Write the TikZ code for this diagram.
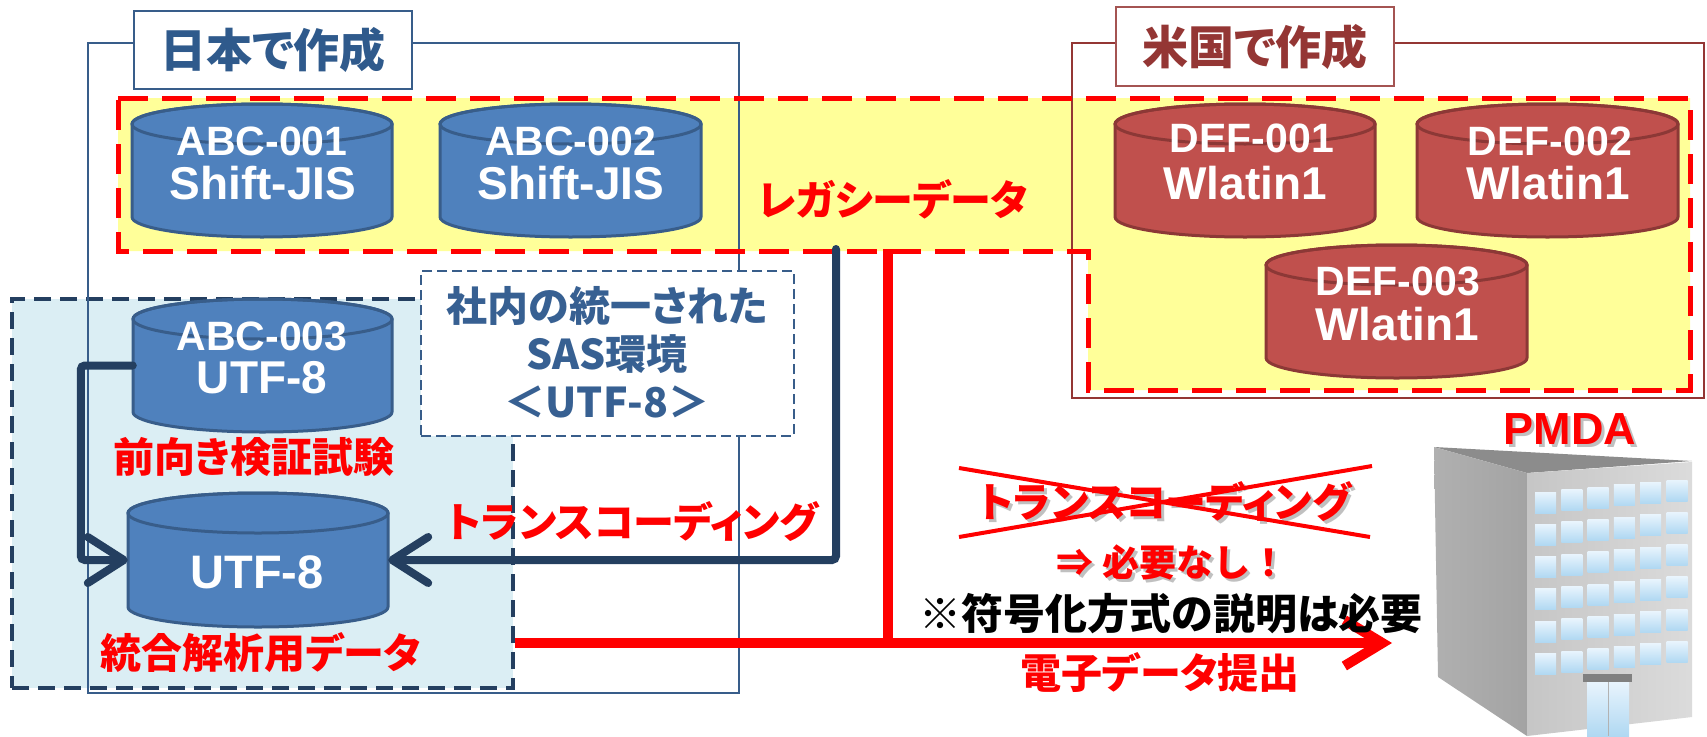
\documentclass[tikz,border=0pt]{standalone}
\usepackage{fontspec}
\newfontfamily\jp{Noto Sans CJK JP}[RawFeature={+palt}]
\newfontfamily\jpfull{Noto Sans CJK JP}
\newfontfamily\lat{Liberation Sans}
\usetikzlibrary{arrows.meta,calc}

\definecolor{cylblue}{HTML}{4F81BD}
\definecolor{cylblueline}{HTML}{385D8A}
\definecolor{cylred}{HTML}{C0504D}
\definecolor{cylredline}{HTML}{8C3836}
\definecolor{legacyyellow}{HTML}{FFFF99}
\definecolor{paleblue}{HTML}{DBEEF4}
\definecolor{navy}{HTML}{243F60}
\definecolor{jpblue}{HTML}{2F5A8C}
\definecolor{jpframe}{HTML}{385D8A}
\definecolor{usred}{HTML}{943634}
\definecolor{sasblue}{HTML}{376092}
\definecolor{winhi}{HTML}{E8F4FD}
\definecolor{winlo}{HTML}{B0D8F2}

% database drum: name, centre x, top y, width, height, fill, outline
\newcommand\dbcyl[7]{%
  \pgfmathsetmacro\rx{#4/2}%
  \filldraw[fill=#6,draw=#7,line width=3pt,line join=round]
    ({#2-\rx},{#3+20}) -- ({#2-\rx},{#3+#5-20})
    arc[start angle=180,end angle=360,x radius=\rx pt,y radius=20pt]
    -- ({#2+\rx},{#3+20})
    arc[start angle=0,end angle=180,x radius=\rx pt,y radius=20pt] -- cycle;
  \draw[draw=#7,line width=3pt] (#2,{#3+20}) ellipse[x radius=\rx pt,y radius=20pt];
  \node[inner sep=0,minimum width=#4pt,minimum height=#5pt] (#1) at (#2,{#3+#5/2}) {};
}

\tikzset{
  idtext/.style={text=white,font=\lat\bfseries\fontsize{41}{41}\selectfont,anchor=base,inner sep=0},
  enctext/.style={text=white,font=\lat\bfseries\fontsize{46}{46}\selectfont,anchor=base,inner sep=0},
  jplabel/.style={font=\jp\bfseries\fontsize{41}{41}\selectfont,inner sep=0},
  titlebox/.style={fill=white,line width=2pt,inner sep=0,font=\jp\bfseries\fontsize{46}{46}\selectfont},
  framebox/.style={line width=1.5pt,inner sep=0},
  navyarrow/.style={draw=navy,line width=8pt,rounded corners=4pt,line cap=round,
    -{Straight Barb[length=36pt,width=46pt,round]}},
  redline/.style={draw=red,line width=10pt},
  legacyedge/.style={draw=red,line width=5pt,dash pattern=on 30pt off 14pt},
  softshadow/.style={text=black!35,opacity=0.7},
}

\begin{document}
\begin{tikzpicture}[x=1pt,y=-1pt]
\useasboundingbox[fill=white] (0,0) rectangle (1707,736);

% legacy data area
\fill[legacyyellow] (118,98) -- (1690,98) -- (1690,390) -- (1088,390) -- (1088,251) -- (118,251) -- cycle;

% unified SAS environment area
\node[fill=paleblue,draw=navy,line width=4pt,dash pattern=on 17pt off 9pt,
      minimum width=501pt,minimum height=389pt,inner sep=0] (palebox) at (262.5,493.5) {};

% origin frames
\node[framebox,draw=jpframe,minimum width=651pt,minimum height=650pt] (jpframe) at (413.5,368) {};
\node[framebox,draw=usred,minimum width=632pt,minimum height=355pt] (usframe) at (1388,220.5) {};

\draw[legacyedge] (118,98) -- (1690,98) -- (1690,390) -- (1088,390) -- (1088,251) -- (118,251) -- cycle;

\node[titlebox,draw=jpframe,text=jpblue,minimum width=278pt,minimum height=78pt] (jptitle) at (273,50) {日本で作成};
\node[titlebox,draw=usred!85,text=usred,minimum width=278pt,minimum height=79pt] (ustitle) at (1255,46.5) {米国で作成};

\node[fill=white,draw=cylblueline,line width=1.5pt,dash pattern=on 10pt off 5pt,
      minimum width=373pt,minimum height=165pt,inner sep=0] (sasbox) at (607.5,353.5) {};
\node[text=sasblue,font=\jp\bfseries\fontsize{41}{48}\selectfont,align=center,inner sep=0] (sastext) at (607,352)
  {社内の統一された\\SAS環境\\＜UTF-8＞};

% data sets
\dbcyl{abc1}{262}{104}{260}{133}{cylblue}{cylblueline}
\dbcyl{abc2}{570.5}{104}{261}{133}{cylblue}{cylblueline}
\dbcyl{def1}{1245}{104}{260}{133}{cylred}{cylredline}
\dbcyl{def2}{1547.5}{104}{261}{133}{cylred}{cylredline}
\dbcyl{def3}{1396.5}{245}{261}{133}{cylred}{cylredline}
\dbcyl{abc3}{262.5}{299}{259}{133}{cylblue}{cylblueline}
\dbcyl{utf}{258}{493}{260}{134}{cylblue}{cylblueline}

\node[idtext] (abc1-id) at (262,155) {ABC-001};
\node[enctext] (abc1-enc) at (263,199) {Shift-JIS};
\node[idtext] (abc2-id) at (570.5,155) {ABC-002};
\node[enctext] (abc2-enc) at (571,199) {Shift-JIS};
\node[idtext] (def1-id) at (1252,152) {DEF-001};
\node[enctext] (def1-enc) at (1245,199) {Wlatin1};
\node[idtext] (def2-id) at (1550,155) {DEF-002};
\node[enctext] (def2-enc) at (1548,199) {Wlatin1};
\node[idtext] (def3-id) at (1398,295) {DEF-003};
\node[enctext] (def3-enc) at (1397,340) {Wlatin1};
\node[idtext] (abc3-id) at (262,350) {ABC-003};
\node[enctext] (abc3-enc) at (262,393) {UTF-8};
\node[enctext,font=\lat\bfseries\fontsize{47}{47}\selectfont] (utf-enc) at (257,588) {UTF-8};

% conversion paths into the integrated data
\coordinate (tcstart) at (836,249);
\draw[navyarrow] (tcstart) |- (utf.east);
\draw[navyarrow] (abc3.west) -- ++(-52,0) |- (utf.west);

% submission path
\coordinate (redtop) at (888,249);
\coordinate (redjoin) at (888,643);
\coordinate (subtip) at (1392,643);
\draw[redline] (redtop) -- (redjoin);
\draw[redline,-{Straight Barb[length=38pt,width=46pt]}] (palebox.east |- redjoin) -- (subtip);

% labels
\node[jplabel,text=red] (legacylabel) at (893,199) {レガシーデータ};
\node[jplabel,text=red] (fwdlabel) at (254,457) {前向き検証試験};
\node[jplabel,text=red] (intlabel) at (261,653) {統合解析用データ};
\node[jplabel,text=red] (tclabel) at (633,522) {トランスコーディング};

\node[jplabel,softshadow] at (1168,505) {トランスコーディング};
\node[jplabel,text=red] (xtc) at (1165,502) {トランスコーディング};
\draw[red,line width=4pt] (959,468) -- (1370,537);
\draw[red,line width=4pt] (959,537) -- (1372,466);

\node[jplabel,softshadow,font=\jpfull\bfseries\fontsize{37}{37}\selectfont] at (1175,565) {⇒ 必要なし！};
\node[jplabel,text=red,font=\jpfull\bfseries\fontsize{37}{37}\selectfont] (notneeded) at (1172,562) {⇒ 必要なし！};
\node[jplabel,text=black,font=\jp\bfseries\fontsize{42}{42}\selectfont] (note) at (1171,614) {※符号化方式の説明は必要};
\node[jplabel,text=red] (sublabel) at (1160,673) {電子データ提出};

% agency building
\fill[black!45] (1434,447) -- (1692,461) -- (1527,473) -- cycle;
\shade[left color=gray!62,right color=gray!72] (1434,447) -- (1527,473) -- (1527,736) -- (1438,677) -- cycle;
\shade[left color=gray!45,right color=gray!28] (1527,473) -- (1692,462) -- (1692,717) -- (1527,736) -- cycle;
\foreach \i in {0,...,5}{
  \foreach \j in {0,...,5}{
    \pgfmathsetmacro\wx{1535+\i*26.3}
    \pgfmathsetmacro\wy{492+\j*32.3-\i*2.4}
    \shade[top color=winhi,bottom color=winlo] (\wx,\wy) rectangle ++(21,21);
  }
}
\fill[black!50] (1583,674) rectangle (1632,682);
\shade[top color=winhi,bottom color=winlo] (1587,682) rectangle (1629,736);
\draw[gray!60,line width=1pt] (1608,682) -- (1608,736);

\node[softshadow,font=\lat\bfseries\fontsize{45}{45}\selectfont,inner sep=0] at (1573,432) {PMDA};
\node[text=red,font=\lat\bfseries\fontsize{45}{45}\selectfont,inner sep=0] (pmda) at (1570,429) {PMDA};
\end{tikzpicture}
\end{document}
